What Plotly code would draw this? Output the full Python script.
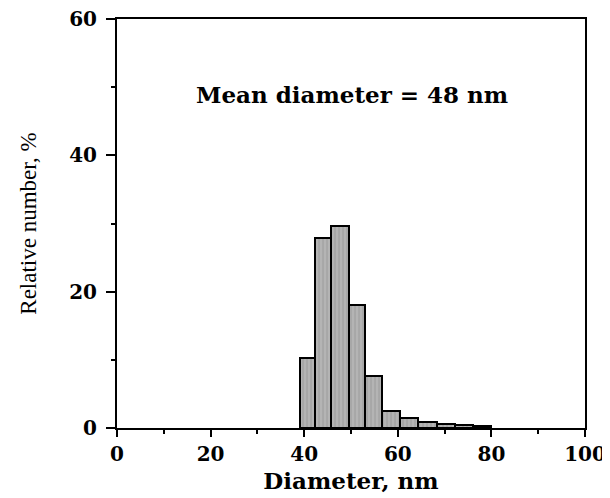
import plotly.graph_objects as go

# Histogram bin edges (nm) and relative numbers (%)
bin_edges = [39.0, 42.4, 45.8, 49.6, 53.0, 56.6, 60.5, 64.4, 68.3, 72.2, 76.1, 80.0]
rel_number = [10.3, 27.9, 29.7, 18.1, 7.6, 2.5, 1.4, 0.9, 0.6, 0.4, 0.3]

x_ticks = [0, 20, 40, 60, 80, 100]
y_ticks = [0, 20, 40, 60]
annotation_text = "Mean diameter = 48 nm"

centers = [(a + b) / 2 for a, b in zip(bin_edges[:-1], bin_edges[1:])]
widths = [b - a for a, b in zip(bin_edges[:-1], bin_edges[1:])]

tick_font = dict(family="DejaVu Serif", size=20, color="black", weight="bold")

fig = go.Figure()
fig.add_trace(go.Bar(
    x=centers, y=rel_number, width=widths,
    marker=dict(color="#a6a6a6", line=dict(color="black", width=2),
                pattern=dict(shape="|", fgcolor="#8a8a8a", bgcolor="#b4b4b4", size=4, solidity=0.3)),
    showlegend=False,
))

# page body has an 8px margin, so the figure is sized/offset to compensate
fig.update_layout(
    width=602, height=490,
    margin=dict(l=109, r=25, t=11, b=70),
    paper_bgcolor="white", plot_bgcolor="white",
    bargap=0,
    xaxis=dict(
        range=[0, 100], tickvals=x_ticks, ticks="outside", ticklen=7, tickwidth=2,
        tickcolor="black", showline=True, linewidth=2, linecolor="black", mirror=True,
        showgrid=False, zeroline=False, tickfont=tick_font, automargin=False,
        ticklabeloverflow="allow",
        minor=dict(tickvals=[10, 30, 50, 70, 90], ticks="outside", ticklen=4, tickwidth=2, tickcolor="black"),
        title=dict(text="Diameter, nm", font=dict(family="DejaVu Serif", size=23, color="black", weight="bold"), standoff=8),
    ),
    yaxis=dict(
        range=[0, 60], tickvals=y_ticks, ticks="outside", ticklen=9, tickwidth=2,
        tickcolor="black", showline=True, linewidth=2, linecolor="black", mirror=True,
        showgrid=False, zeroline=False, tickfont=tick_font, ticklabelstandoff=5, automargin=False,
        ticklabeloverflow="allow",
        minor=dict(tickvals=[10, 30, 50], ticks="outside", ticklen=4, tickwidth=2, tickcolor="black"),
        title=dict(text="Relative number, %", font=dict(family="Liberation Serif", size=23, color="black"), standoff=26),
    ),
    annotations=[dict(
        x=50.3, y=48.9, xref="x", yref="y", text=annotation_text, showarrow=False,
        font=dict(family="DejaVu Serif", size=23, color="black", weight="bold"),
    )],
)

fig.write_html("out.html")
